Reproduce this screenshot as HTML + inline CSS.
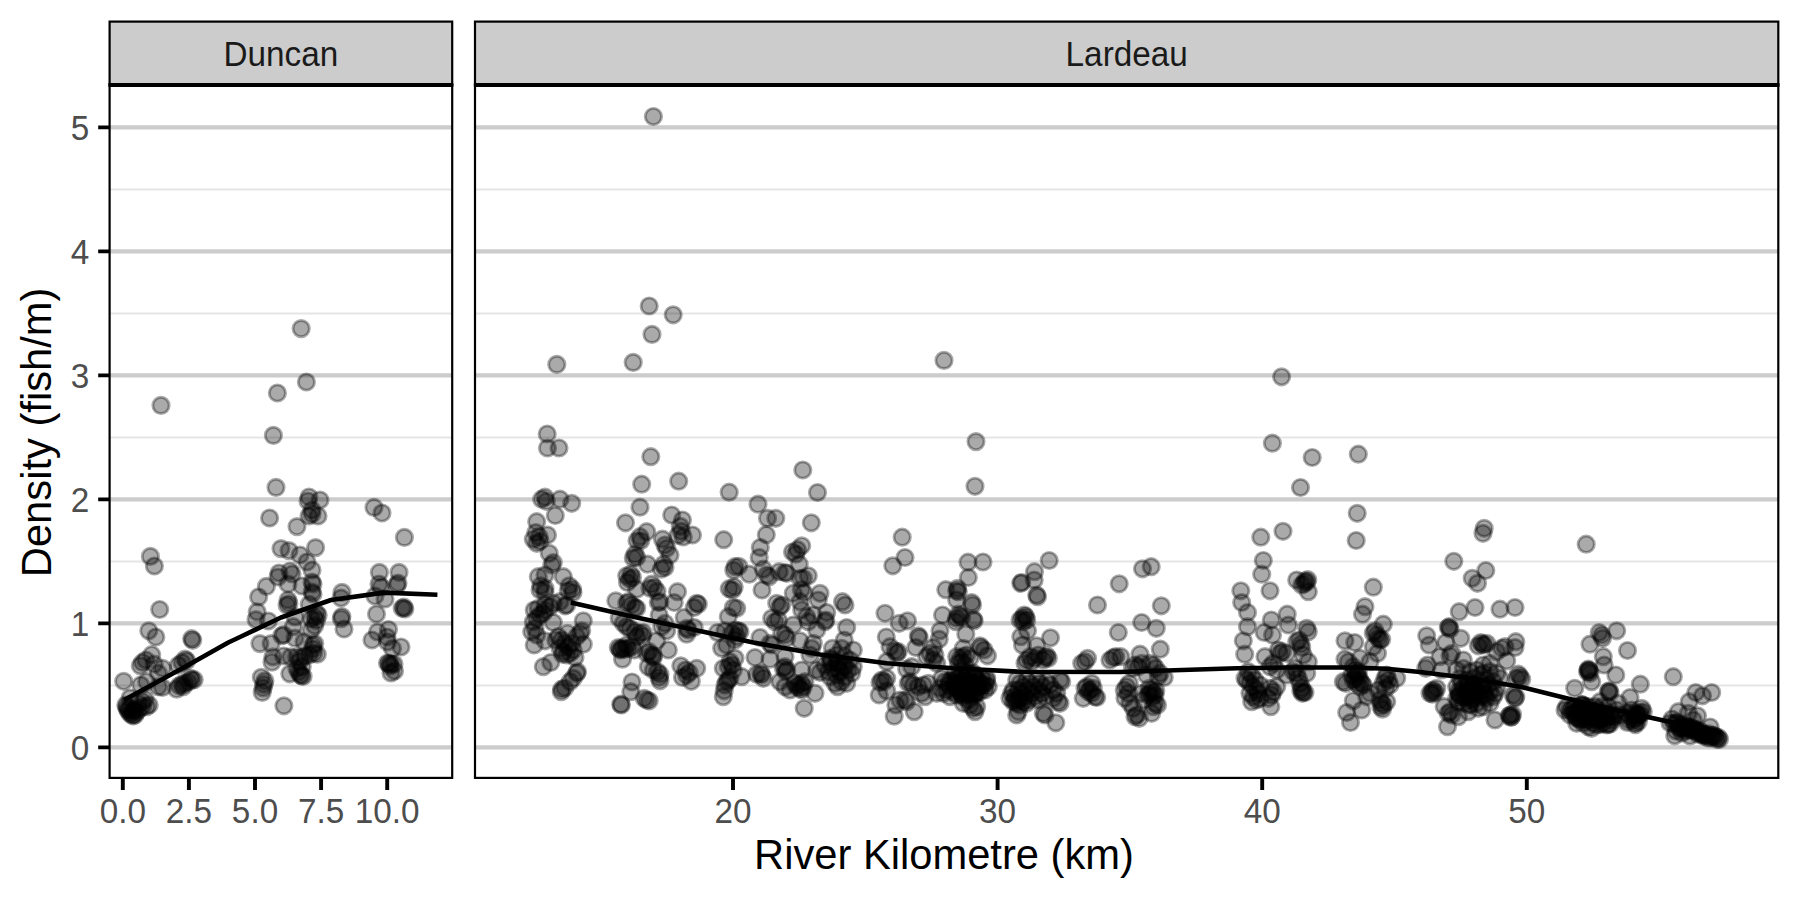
<!DOCTYPE html>
<html lang="en"><head><meta charset="utf-8"><title>Density by River Kilometre</title>
<style>html,body{margin:0;padding:0;background:#fff}body{width:1800px;height:900px;overflow:hidden}svg{display:block}text{font-family:"Liberation Sans",Arial,Helvetica,sans-serif}.tk{font-size:33.3px;fill:#4d4d4d}.st{font-size:33.3px;fill:#1a1a1a}.ti{font-size:41.7px;fill:#000}</style></head><body>
<svg width="1800" height="900" viewBox="0 0 1800 900">
<defs><circle id="p" r="8.15" fill="#000" fill-opacity="0.333" stroke="#000" stroke-opacity="0.333" stroke-width="2.9"/>
<clipPath id="c1"><rect x="109.6" y="85.0" width="342.6" height="692.9"/></clipPath><clipPath id="c2"><rect x="475.0" y="85.0" width="1303.3" height="692.9"/></clipPath></defs>
<rect width="1800" height="900" fill="#fff"/>
<path d="M109.6 685.4H452.2M109.6 561.4H452.2M109.6 437.4H452.2M109.6 313.4H452.2M109.6 189.4H452.2" stroke="#e5e5e5" stroke-width="2" fill="none"/>
<path d="M109.6 747.4H452.2M109.6 623.4H452.2M109.6 499.4H452.2M109.6 375.4H452.2M109.6 251.4H452.2M109.6 127.4H452.2" stroke="#cccccc" stroke-width="4.2" fill="none"/>
<path d="M475.0 685.4H1778.3M475.0 561.4H1778.3M475.0 437.4H1778.3M475.0 313.4H1778.3M475.0 189.4H1778.3" stroke="#e5e5e5" stroke-width="2" fill="none"/>
<path d="M475.0 747.4H1778.3M475.0 623.4H1778.3M475.0 499.4H1778.3M475.0 375.4H1778.3M475.0 251.4H1778.3M475.0 127.4H1778.3" stroke="#cccccc" stroke-width="4.2" fill="none"/>
<g id="pts">
<use href="#p" x="301.2" y="328.6"/>
<use href="#p" x="306.4" y="382"/>
<use href="#p" x="277.4" y="393"/>
<use href="#p" x="161" y="405.4"/>
<use href="#p" x="273.4" y="435.4"/>
<use href="#p" x="276" y="487.4"/>
<use href="#p" x="269.6" y="518"/>
<use href="#p" x="297" y="526.6"/>
<use href="#p" x="309" y="497"/>
<use href="#p" x="308" y="501"/>
<use href="#p" x="320" y="500"/>
<use href="#p" x="312" y="510"/>
<use href="#p" x="309" y="516"/>
<use href="#p" x="318" y="516"/>
<use href="#p" x="312" y="514"/>
<use href="#p" x="374" y="507.4"/>
<use href="#p" x="382" y="513"/>
<use href="#p" x="404.4" y="537.4"/>
<use href="#p" x="150.4" y="556.4"/>
<use href="#p" x="154.4" y="566"/>
<use href="#p" x="281" y="548.6"/>
<use href="#p" x="289" y="550.6"/>
<use href="#p" x="300" y="555"/>
<use href="#p" x="307" y="562"/>
<use href="#p" x="312" y="570"/>
<use href="#p" x="315.6" y="547.6"/>
<use href="#p" x="279" y="573"/>
<use href="#p" x="290" y="571"/>
<use href="#p" x="292" y="574"/>
<use href="#p" x="278" y="577"/>
<use href="#p" x="288" y="584"/>
<use href="#p" x="266.4" y="586.4"/>
<use href="#p" x="258.6" y="597"/>
<use href="#p" x="302" y="586"/>
<use href="#p" x="312" y="582"/>
<use href="#p" x="313" y="584"/>
<use href="#p" x="312" y="592"/>
<use href="#p" x="313" y="594"/>
<use href="#p" x="342" y="592.4"/>
<use href="#p" x="341" y="598"/>
<use href="#p" x="379.4" y="572.4"/>
<use href="#p" x="399" y="572.4"/>
<use href="#p" x="379" y="584"/>
<use href="#p" x="381" y="587"/>
<use href="#p" x="398" y="583"/>
<use href="#p" x="397" y="585"/>
<use href="#p" x="375" y="596"/>
<use href="#p" x="385" y="599"/>
<use href="#p" x="159.7" y="609.5"/>
<use href="#p" x="148.8" y="630.8"/>
<use href="#p" x="155.8" y="637"/>
<use href="#p" x="191.7" y="638.7"/>
<use href="#p" x="192.7" y="640.3"/>
<use href="#p" x="151.7" y="654.7"/>
<use href="#p" x="145.8" y="660"/>
<use href="#p" x="142.5" y="662.5"/>
<use href="#p" x="140.3" y="665.8"/>
<use href="#p" x="154.2" y="664.2"/>
<use href="#p" x="162.5" y="668.3"/>
<use href="#p" x="158.3" y="673.3"/>
<use href="#p" x="185" y="659.2"/>
<use href="#p" x="186.7" y="660.8"/>
<use href="#p" x="182" y="662.5"/>
<use href="#p" x="178.3" y="665.3"/>
<use href="#p" x="123.7" y="681.3"/>
<use href="#p" x="140.8" y="685"/>
<use href="#p" x="146.7" y="681.7"/>
<use href="#p" x="162.5" y="687.5"/>
<use href="#p" x="158.3" y="686.7"/>
<use href="#p" x="176.7" y="689.2"/>
<use href="#p" x="179.2" y="685.8"/>
<use href="#p" x="182" y="684.2"/>
<use href="#p" x="185" y="683.3"/>
<use href="#p" x="188.3" y="682"/>
<use href="#p" x="191.7" y="680"/>
<use href="#p" x="194.2" y="679.7"/>
<use href="#p" x="183.3" y="686.7"/>
<use href="#p" x="190.8" y="678.3"/>
<use href="#p" x="126.7" y="706.7"/>
<use href="#p" x="127.5" y="709.2"/>
<use href="#p" x="128.3" y="710.8"/>
<use href="#p" x="130" y="713.3"/>
<use href="#p" x="131.7" y="715"/>
<use href="#p" x="133.3" y="715.8"/>
<use href="#p" x="135" y="715"/>
<use href="#p" x="130" y="708.3"/>
<use href="#p" x="132.5" y="711.7"/>
<use href="#p" x="125.8" y="705"/>
<use href="#p" x="136.7" y="711.7"/>
<use href="#p" x="139.2" y="709.2"/>
<use href="#p" x="134.2" y="710"/>
<use href="#p" x="142.5" y="706.7"/>
<use href="#p" x="146.7" y="706.7"/>
<use href="#p" x="149.2" y="705"/>
<use href="#p" x="145" y="699.2"/>
<use href="#p" x="142.5" y="701.7"/>
<use href="#p" x="130" y="698"/>
<use href="#p" x="138.3" y="703.3"/>
<use href="#p" x="257.2" y="611.9"/>
<use href="#p" x="256" y="619.6"/>
<use href="#p" x="268.4" y="621"/>
<use href="#p" x="288" y="600"/>
<use href="#p" x="288.9" y="603.6"/>
<use href="#p" x="287.1" y="605.3"/>
<use href="#p" x="309.3" y="604.4"/>
<use href="#p" x="316.4" y="613.3"/>
<use href="#p" x="318.2" y="615.1"/>
<use href="#p" x="314.7" y="616.9"/>
<use href="#p" x="311.1" y="618.7"/>
<use href="#p" x="295.1" y="616.9"/>
<use href="#p" x="316.4" y="620.4"/>
<use href="#p" x="314.7" y="625.8"/>
<use href="#p" x="311.1" y="630.2"/>
<use href="#p" x="293.3" y="626.7"/>
<use href="#p" x="341.9" y="616.5"/>
<use href="#p" x="341.3" y="618.7"/>
<use href="#p" x="344" y="629"/>
<use href="#p" x="283.6" y="634.7"/>
<use href="#p" x="281.8" y="635.6"/>
<use href="#p" x="295.1" y="638.2"/>
<use href="#p" x="304" y="641.8"/>
<use href="#p" x="314.7" y="643.6"/>
<use href="#p" x="312.9" y="645.3"/>
<use href="#p" x="259.9" y="643.6"/>
<use href="#p" x="271.1" y="643.6"/>
<use href="#p" x="272.9" y="656.9"/>
<use href="#p" x="272" y="662.2"/>
<use href="#p" x="283.6" y="656"/>
<use href="#p" x="290.7" y="656.9"/>
<use href="#p" x="296.9" y="656.9"/>
<use href="#p" x="300.4" y="658.1"/>
<use href="#p" x="304.9" y="656"/>
<use href="#p" x="309.3" y="654.8"/>
<use href="#p" x="313.8" y="653.3"/>
<use href="#p" x="317.3" y="654.2"/>
<use href="#p" x="299.6" y="661.3"/>
<use href="#p" x="312.9" y="648.9"/>
<use href="#p" x="289.8" y="673.8"/>
<use href="#p" x="298.7" y="672"/>
<use href="#p" x="301.3" y="675.6"/>
<use href="#p" x="303.1" y="676.4"/>
<use href="#p" x="300.4" y="674.7"/>
<use href="#p" x="296.9" y="668.4"/>
<use href="#p" x="302.2" y="666.7"/>
<use href="#p" x="261.3" y="677.3"/>
<use href="#p" x="264.9" y="680.9"/>
<use href="#p" x="263.1" y="688"/>
<use href="#p" x="262.2" y="692.4"/>
<use href="#p" x="264" y="684.4"/>
<use href="#p" x="283.9" y="705.8"/>
<use href="#p" x="402.2" y="608.2"/>
<use href="#p" x="404" y="607.2"/>
<use href="#p" x="404.8" y="609"/>
<use href="#p" x="376.5" y="614"/>
<use href="#p" x="377.5" y="632"/>
<use href="#p" x="388.5" y="629.5"/>
<use href="#p" x="387" y="637"/>
<use href="#p" x="372" y="640"/>
<use href="#p" x="387.5" y="642"/>
<use href="#p" x="392.5" y="648.5"/>
<use href="#p" x="401" y="647"/>
<use href="#p" x="387.5" y="663"/>
<use href="#p" x="389" y="663.5"/>
<use href="#p" x="391" y="664"/>
<use href="#p" x="394" y="664"/>
<use href="#p" x="390" y="666"/>
<use href="#p" x="391" y="673"/>
<use href="#p" x="394.5" y="671"/>
<use href="#p" x="533.3" y="621.7"/>
<use href="#p" x="535" y="628.3"/>
<use href="#p" x="531.7" y="631.7"/>
<use href="#p" x="536.7" y="635"/>
<use href="#p" x="534.2" y="610"/>
<use href="#p" x="538.3" y="608.3"/>
<use href="#p" x="545" y="610"/>
<use href="#p" x="543.3" y="613.3"/>
<use href="#p" x="550" y="606.7"/>
<use href="#p" x="540" y="615"/>
<use href="#p" x="536.7" y="618.3"/>
<use href="#p" x="553.3" y="603.3"/>
<use href="#p" x="566.7" y="605"/>
<use href="#p" x="565" y="605.8"/>
<use href="#p" x="560" y="601.7"/>
<use href="#p" x="553.3" y="622.5"/>
<use href="#p" x="545" y="605"/>
<use href="#p" x="534.2" y="645"/>
<use href="#p" x="545" y="640.8"/>
<use href="#p" x="583.3" y="620.8"/>
<use href="#p" x="581.7" y="630.8"/>
<use href="#p" x="580" y="633.3"/>
<use href="#p" x="583.3" y="644.2"/>
<use href="#p" x="558.3" y="636.7"/>
<use href="#p" x="561.7" y="640"/>
<use href="#p" x="565" y="643.3"/>
<use href="#p" x="568.3" y="646.7"/>
<use href="#p" x="560" y="648.3"/>
<use href="#p" x="563.3" y="651.7"/>
<use href="#p" x="570" y="653.3"/>
<use href="#p" x="566.7" y="655"/>
<use href="#p" x="573.3" y="650"/>
<use href="#p" x="571.7" y="643.3"/>
<use href="#p" x="576.7" y="636.7"/>
<use href="#p" x="555.8" y="640"/>
<use href="#p" x="575" y="657.5"/>
<use href="#p" x="567.5" y="633.3"/>
<use href="#p" x="562.5" y="654.2"/>
<use href="#p" x="543.3" y="666.7"/>
<use href="#p" x="550.8" y="662.5"/>
<use href="#p" x="577.5" y="671.7"/>
<use href="#p" x="576.7" y="673.3"/>
<use href="#p" x="573.3" y="678.3"/>
<use href="#p" x="570" y="681.7"/>
<use href="#p" x="561.7" y="689.2"/>
<use href="#p" x="564.7" y="688"/>
<use href="#p" x="561.3" y="691.7"/>
<use href="#p" x="615.8" y="600.8"/>
<use href="#p" x="626.7" y="603.3"/>
<use href="#p" x="631.7" y="605"/>
<use href="#p" x="635" y="607.5"/>
<use href="#p" x="636.7" y="608.3"/>
<use href="#p" x="628.3" y="601.7"/>
<use href="#p" x="658.3" y="602.5"/>
<use href="#p" x="660" y="601.7"/>
<use href="#p" x="674.2" y="602.5"/>
<use href="#p" x="659.2" y="615"/>
<use href="#p" x="619.2" y="618.3"/>
<use href="#p" x="623.3" y="623.3"/>
<use href="#p" x="626.7" y="626.7"/>
<use href="#p" x="630" y="628.3"/>
<use href="#p" x="635" y="631.7"/>
<use href="#p" x="640" y="633.3"/>
<use href="#p" x="643.3" y="632.5"/>
<use href="#p" x="636.7" y="636.7"/>
<use href="#p" x="642.5" y="635.8"/>
<use href="#p" x="665" y="623.3"/>
<use href="#p" x="661.7" y="626.7"/>
<use href="#p" x="666.7" y="630.8"/>
<use href="#p" x="656.7" y="640.8"/>
<use href="#p" x="668.3" y="650"/>
<use href="#p" x="618.3" y="647.5"/>
<use href="#p" x="620" y="649.2"/>
<use href="#p" x="622.5" y="648.3"/>
<use href="#p" x="625" y="649.2"/>
<use href="#p" x="628.3" y="648.3"/>
<use href="#p" x="631.7" y="646.7"/>
<use href="#p" x="620.8" y="650"/>
<use href="#p" x="626.7" y="645"/>
<use href="#p" x="634.2" y="650"/>
<use href="#p" x="622.5" y="659.2"/>
<use href="#p" x="646.7" y="653.3"/>
<use href="#p" x="651.7" y="655"/>
<use href="#p" x="653.3" y="655.8"/>
<use href="#p" x="649.2" y="651.7"/>
<use href="#p" x="653.3" y="657.5"/>
<use href="#p" x="648.3" y="666.7"/>
<use href="#p" x="653.3" y="670"/>
<use href="#p" x="657.5" y="671.7"/>
<use href="#p" x="660" y="674.2"/>
<use href="#p" x="659.2" y="677.5"/>
<use href="#p" x="660" y="680.8"/>
<use href="#p" x="632" y="682"/>
<use href="#p" x="630.8" y="691.7"/>
<use href="#p" x="620.8" y="704.2"/>
<use href="#p" x="621.3" y="705"/>
<use href="#p" x="644.2" y="698.3"/>
<use href="#p" x="646.7" y="700"/>
<use href="#p" x="649.2" y="700.8"/>
<use href="#p" x="696.7" y="603.3"/>
<use href="#p" x="698.3" y="604.2"/>
<use href="#p" x="694.2" y="607.5"/>
<use href="#p" x="684.2" y="617.5"/>
<use href="#p" x="686.7" y="628.3"/>
<use href="#p" x="688.3" y="630"/>
<use href="#p" x="694.2" y="627.5"/>
<use href="#p" x="686.7" y="634.2"/>
<use href="#p" x="680.8" y="665.8"/>
<use href="#p" x="696.7" y="668.3"/>
<use href="#p" x="685.8" y="670"/>
<use href="#p" x="689.2" y="672.5"/>
<use href="#p" x="682.5" y="677.5"/>
<use href="#p" x="691.3" y="681.3"/>
<use href="#p" x="686.7" y="675.3"/>
<use href="#p" x="733.3" y="607.5"/>
<use href="#p" x="736.7" y="608.3"/>
<use href="#p" x="728.3" y="616.7"/>
<use href="#p" x="717.5" y="632.5"/>
<use href="#p" x="725" y="630.8"/>
<use href="#p" x="735" y="630"/>
<use href="#p" x="738.3" y="630.8"/>
<use href="#p" x="740" y="631.7"/>
<use href="#p" x="736.7" y="636.7"/>
<use href="#p" x="735" y="640"/>
<use href="#p" x="731.7" y="633.3"/>
<use href="#p" x="721.7" y="648.3"/>
<use href="#p" x="726.7" y="645"/>
<use href="#p" x="735" y="658.3"/>
<use href="#p" x="730" y="661.7"/>
<use href="#p" x="731.7" y="665"/>
<use href="#p" x="728.3" y="666.7"/>
<use href="#p" x="733.3" y="670"/>
<use href="#p" x="723.3" y="668.3"/>
<use href="#p" x="741.7" y="676.7"/>
<use href="#p" x="730" y="678.3"/>
<use href="#p" x="726.7" y="681.7"/>
<use href="#p" x="725" y="685"/>
<use href="#p" x="728.3" y="680"/>
<use href="#p" x="724.2" y="690.8"/>
<use href="#p" x="723.3" y="696.7"/>
<use href="#p" x="776.7" y="603.3"/>
<use href="#p" x="780" y="606.7"/>
<use href="#p" x="781.7" y="605"/>
<use href="#p" x="801.7" y="610"/>
<use href="#p" x="800" y="601.7"/>
<use href="#p" x="771.7" y="618.3"/>
<use href="#p" x="775" y="621.7"/>
<use href="#p" x="778.3" y="620"/>
<use href="#p" x="793.3" y="625"/>
<use href="#p" x="806.7" y="616.7"/>
<use href="#p" x="808.3" y="621.7"/>
<use href="#p" x="813.3" y="615"/>
<use href="#p" x="818.3" y="600"/>
<use href="#p" x="760" y="637.5"/>
<use href="#p" x="770" y="643.3"/>
<use href="#p" x="771.7" y="645"/>
<use href="#p" x="781.7" y="633.3"/>
<use href="#p" x="785" y="635"/>
<use href="#p" x="786.7" y="638.3"/>
<use href="#p" x="800" y="640.8"/>
<use href="#p" x="813.3" y="643.3"/>
<use href="#p" x="811.7" y="648.3"/>
<use href="#p" x="816.7" y="630"/>
<use href="#p" x="755" y="657.5"/>
<use href="#p" x="770" y="659.2"/>
<use href="#p" x="785" y="656.7"/>
<use href="#p" x="810" y="655"/>
<use href="#p" x="785" y="666.7"/>
<use href="#p" x="786.7" y="670"/>
<use href="#p" x="783.3" y="668.3"/>
<use href="#p" x="785.8" y="671.7"/>
<use href="#p" x="756.7" y="674.2"/>
<use href="#p" x="760.8" y="673.3"/>
<use href="#p" x="763.3" y="678.3"/>
<use href="#p" x="761.7" y="675"/>
<use href="#p" x="801.7" y="670"/>
<use href="#p" x="816.7" y="670"/>
<use href="#p" x="820" y="672.5"/>
<use href="#p" x="780" y="681.7"/>
<use href="#p" x="785" y="686.7"/>
<use href="#p" x="790" y="690"/>
<use href="#p" x="795" y="683.3"/>
<use href="#p" x="798.3" y="685"/>
<use href="#p" x="801.7" y="683.3"/>
<use href="#p" x="803.3" y="686.7"/>
<use href="#p" x="800" y="688.3"/>
<use href="#p" x="796.7" y="686.7"/>
<use href="#p" x="805" y="681.7"/>
<use href="#p" x="801.7" y="690"/>
<use href="#p" x="815" y="693.3"/>
<use href="#p" x="804.2" y="708.3"/>
<use href="#p" x="541.7" y="499.2"/>
<use href="#p" x="545" y="497.2"/>
<use href="#p" x="546.3" y="501.3"/>
<use href="#p" x="560" y="499.2"/>
<use href="#p" x="571.7" y="503.3"/>
<use href="#p" x="555.3" y="515.5"/>
<use href="#p" x="536.7" y="521.7"/>
<use href="#p" x="535.8" y="532.5"/>
<use href="#p" x="539.2" y="536.7"/>
<use href="#p" x="533.3" y="539.2"/>
<use href="#p" x="540" y="541.3"/>
<use href="#p" x="536.7" y="543.3"/>
<use href="#p" x="547.5" y="535"/>
<use href="#p" x="549.2" y="553.3"/>
<use href="#p" x="553.3" y="562.5"/>
<use href="#p" x="551.7" y="565"/>
<use href="#p" x="538.3" y="576.7"/>
<use href="#p" x="545" y="575"/>
<use href="#p" x="563.3" y="576.7"/>
<use href="#p" x="540.8" y="585.8"/>
<use href="#p" x="545" y="588.3"/>
<use href="#p" x="540" y="590"/>
<use href="#p" x="545" y="592.5"/>
<use href="#p" x="569.2" y="585.8"/>
<use href="#p" x="572.5" y="589.2"/>
<use href="#p" x="568.3" y="590.8"/>
<use href="#p" x="573" y="592.5"/>
<use href="#p" x="650.8" y="456.7"/>
<use href="#p" x="641.7" y="484.2"/>
<use href="#p" x="678.7" y="481.2"/>
<use href="#p" x="640" y="507.2"/>
<use href="#p" x="625.5" y="522.8"/>
<use href="#p" x="671.7" y="515"/>
<use href="#p" x="682.5" y="520"/>
<use href="#p" x="646.7" y="531.7"/>
<use href="#p" x="640" y="536.7"/>
<use href="#p" x="637" y="540.8"/>
<use href="#p" x="640.8" y="540.8"/>
<use href="#p" x="680.3" y="526.3"/>
<use href="#p" x="681.3" y="531.3"/>
<use href="#p" x="678" y="535.3"/>
<use href="#p" x="683.3" y="537"/>
<use href="#p" x="692.5" y="535"/>
<use href="#p" x="662.5" y="539.2"/>
<use href="#p" x="665" y="545"/>
<use href="#p" x="666.7" y="548.3"/>
<use href="#p" x="670" y="555"/>
<use href="#p" x="635" y="554.2"/>
<use href="#p" x="636.7" y="557.5"/>
<use href="#p" x="633.3" y="558"/>
<use href="#p" x="647.5" y="564.2"/>
<use href="#p" x="663.7" y="564.2"/>
<use href="#p" x="665" y="567.5"/>
<use href="#p" x="661.3" y="569.2"/>
<use href="#p" x="626.7" y="575.8"/>
<use href="#p" x="630.8" y="574.2"/>
<use href="#p" x="630" y="579.2"/>
<use href="#p" x="627.5" y="582.5"/>
<use href="#p" x="632.5" y="577.5"/>
<use href="#p" x="636.7" y="589.2"/>
<use href="#p" x="651.7" y="584.2"/>
<use href="#p" x="654.2" y="587.5"/>
<use href="#p" x="650" y="588.3"/>
<use href="#p" x="657" y="591.3"/>
<use href="#p" x="677.5" y="591.7"/>
<use href="#p" x="729.2" y="492.2"/>
<use href="#p" x="723.7" y="539.7"/>
<use href="#p" x="735" y="566.7"/>
<use href="#p" x="738.7" y="566.3"/>
<use href="#p" x="733.8" y="570.3"/>
<use href="#p" x="749.2" y="574.2"/>
<use href="#p" x="729.2" y="588.7"/>
<use href="#p" x="734.2" y="587"/>
<use href="#p" x="732.5" y="590"/>
<use href="#p" x="802.8" y="470"/>
<use href="#p" x="817.5" y="492.5"/>
<use href="#p" x="758" y="504.2"/>
<use href="#p" x="767.5" y="518.3"/>
<use href="#p" x="775.8" y="518.3"/>
<use href="#p" x="811.3" y="522.8"/>
<use href="#p" x="766.3" y="534.7"/>
<use href="#p" x="760.3" y="547.5"/>
<use href="#p" x="759.2" y="557.5"/>
<use href="#p" x="801.7" y="545.8"/>
<use href="#p" x="792.5" y="552"/>
<use href="#p" x="795.8" y="554.2"/>
<use href="#p" x="797.5" y="549.7"/>
<use href="#p" x="799.2" y="564.2"/>
<use href="#p" x="763.3" y="569.2"/>
<use href="#p" x="766.7" y="575"/>
<use href="#p" x="769.2" y="576.7"/>
<use href="#p" x="779.2" y="571.7"/>
<use href="#p" x="785" y="572.5"/>
<use href="#p" x="786.7" y="573.3"/>
<use href="#p" x="808.3" y="575.8"/>
<use href="#p" x="803.3" y="578.3"/>
<use href="#p" x="800" y="578.3"/>
<use href="#p" x="762" y="590"/>
<use href="#p" x="801.3" y="589.7"/>
<use href="#p" x="803.8" y="592.5"/>
<use href="#p" x="793.3" y="593.3"/>
<use href="#p" x="820" y="593.3"/>
<use href="#p" x="845" y="605"/>
<use href="#p" x="842.5" y="601.7"/>
<use href="#p" x="826.7" y="612.5"/>
<use href="#p" x="825.8" y="620"/>
<use href="#p" x="825" y="621.7"/>
<use href="#p" x="846.7" y="627.5"/>
<use href="#p" x="844.2" y="640"/>
<use href="#p" x="832.5" y="648.3"/>
<use href="#p" x="841.7" y="648.3"/>
<use href="#p" x="853.3" y="650"/>
<use href="#p" x="836.7" y="655"/>
<use href="#p" x="845" y="656.7"/>
<use href="#p" x="830" y="658.3"/>
<use href="#p" x="850" y="660"/>
<use href="#p" x="838.3" y="663.3"/>
<use href="#p" x="843.3" y="666.7"/>
<use href="#p" x="833.3" y="668.3"/>
<use href="#p" x="848.3" y="670"/>
<use href="#p" x="840" y="671.7"/>
<use href="#p" x="836.7" y="675"/>
<use href="#p" x="845" y="676.7"/>
<use href="#p" x="851.7" y="673.3"/>
<use href="#p" x="830" y="676.7"/>
<use href="#p" x="841.7" y="681.7"/>
<use href="#p" x="835" y="683.3"/>
<use href="#p" x="846.7" y="683.3"/>
<use href="#p" x="837.5" y="686.7"/>
<use href="#p" x="828.3" y="671.7"/>
<use href="#p" x="853.3" y="666.7"/>
<use href="#p" x="885" y="613.3"/>
<use href="#p" x="899.2" y="623.3"/>
<use href="#p" x="907.5" y="620.8"/>
<use href="#p" x="886.3" y="637"/>
<use href="#p" x="918.3" y="635.8"/>
<use href="#p" x="919.2" y="637.5"/>
<use href="#p" x="890" y="646.7"/>
<use href="#p" x="895" y="650.8"/>
<use href="#p" x="896.7" y="653.3"/>
<use href="#p" x="898.3" y="651.7"/>
<use href="#p" x="915.8" y="647.5"/>
<use href="#p" x="886.7" y="661.7"/>
<use href="#p" x="911.7" y="666.7"/>
<use href="#p" x="906.7" y="669.2"/>
<use href="#p" x="881.7" y="680"/>
<use href="#p" x="884.2" y="681.7"/>
<use href="#p" x="886.7" y="678.3"/>
<use href="#p" x="880" y="682.5"/>
<use href="#p" x="879.2" y="695"/>
<use href="#p" x="886.7" y="690.8"/>
<use href="#p" x="910" y="681.7"/>
<use href="#p" x="913.3" y="685"/>
<use href="#p" x="908.3" y="683.3"/>
<use href="#p" x="918.3" y="686.7"/>
<use href="#p" x="923.3" y="685"/>
<use href="#p" x="928.3" y="683.3"/>
<use href="#p" x="900" y="700"/>
<use href="#p" x="905" y="700"/>
<use href="#p" x="906.7" y="701.7"/>
<use href="#p" x="895.8" y="705"/>
<use href="#p" x="894.2" y="716.2"/>
<use href="#p" x="914.2" y="711.7"/>
<use href="#p" x="925" y="696.7"/>
<use href="#p" x="921.7" y="693.3"/>
<use href="#p" x="942.5" y="615"/>
<use href="#p" x="940" y="630.8"/>
<use href="#p" x="939.2" y="639.2"/>
<use href="#p" x="956.7" y="600"/>
<use href="#p" x="971.7" y="602.5"/>
<use href="#p" x="972.5" y="605"/>
<use href="#p" x="958.3" y="614.2"/>
<use href="#p" x="960" y="615.8"/>
<use href="#p" x="956.7" y="618.3"/>
<use href="#p" x="961.7" y="617.5"/>
<use href="#p" x="973.3" y="619.2"/>
<use href="#p" x="974.2" y="620.8"/>
<use href="#p" x="955.8" y="621.7"/>
<use href="#p" x="965.8" y="634.2"/>
<use href="#p" x="933.3" y="647.5"/>
<use href="#p" x="930" y="653.3"/>
<use href="#p" x="935" y="655"/>
<use href="#p" x="926.7" y="656.7"/>
<use href="#p" x="936.7" y="663.3"/>
<use href="#p" x="933.3" y="660"/>
<use href="#p" x="980" y="645.8"/>
<use href="#p" x="980.8" y="647.5"/>
<use href="#p" x="984.2" y="650"/>
<use href="#p" x="987.5" y="655.8"/>
<use href="#p" x="963.3" y="648.3"/>
<use href="#p" x="956.7" y="656.7"/>
<use href="#p" x="960" y="658.3"/>
<use href="#p" x="963.3" y="656.7"/>
<use href="#p" x="966.7" y="655"/>
<use href="#p" x="970" y="658.3"/>
<use href="#p" x="961.7" y="661.7"/>
<use href="#p" x="958.3" y="663.3"/>
<use href="#p" x="965" y="665"/>
<use href="#p" x="941.7" y="678.3"/>
<use href="#p" x="945" y="681.7"/>
<use href="#p" x="948.3" y="685"/>
<use href="#p" x="951.7" y="680"/>
<use href="#p" x="955" y="683.3"/>
<use href="#p" x="958.3" y="678.3"/>
<use href="#p" x="961.7" y="681.7"/>
<use href="#p" x="965" y="685"/>
<use href="#p" x="968.3" y="680"/>
<use href="#p" x="971.7" y="683.3"/>
<use href="#p" x="975" y="678.3"/>
<use href="#p" x="978.3" y="681.7"/>
<use href="#p" x="981.7" y="685"/>
<use href="#p" x="985" y="690"/>
<use href="#p" x="986.7" y="678.3"/>
<use href="#p" x="988.3" y="686.7"/>
<use href="#p" x="946.7" y="690"/>
<use href="#p" x="953.3" y="691.7"/>
<use href="#p" x="960" y="690"/>
<use href="#p" x="966.7" y="691.7"/>
<use href="#p" x="973.3" y="690"/>
<use href="#p" x="980" y="691.7"/>
<use href="#p" x="943.3" y="693.3"/>
<use href="#p" x="950" y="696.7"/>
<use href="#p" x="956.7" y="695"/>
<use href="#p" x="963.3" y="696.7"/>
<use href="#p" x="970" y="695"/>
<use href="#p" x="961.7" y="675"/>
<use href="#p" x="968.3" y="673.3"/>
<use href="#p" x="975" y="675"/>
<use href="#p" x="955" y="673.3"/>
<use href="#p" x="965" y="678.3"/>
<use href="#p" x="970.8" y="686.7"/>
<use href="#p" x="960.8" y="685.8"/>
<use href="#p" x="940" y="688.3"/>
<use href="#p" x="936.7" y="693.3"/>
<use href="#p" x="963.3" y="703.3"/>
<use href="#p" x="970" y="705"/>
<use href="#p" x="973.3" y="708.3"/>
<use href="#p" x="975" y="711.7"/>
<use href="#p" x="976.7" y="706.7"/>
<use href="#p" x="968.3" y="700"/>
<use href="#p" x="1024.2" y="615"/>
<use href="#p" x="1025.8" y="616.7"/>
<use href="#p" x="1022.5" y="618.3"/>
<use href="#p" x="1026.7" y="620"/>
<use href="#p" x="1023.3" y="621.7"/>
<use href="#p" x="1020" y="620"/>
<use href="#p" x="1027.5" y="630.8"/>
<use href="#p" x="1020.8" y="636.7"/>
<use href="#p" x="1022.5" y="645"/>
<use href="#p" x="1036.7" y="645.8"/>
<use href="#p" x="1050.5" y="637.8"/>
<use href="#p" x="1046.7" y="655.8"/>
<use href="#p" x="1045" y="657.5"/>
<use href="#p" x="1043.3" y="660"/>
<use href="#p" x="1048.3" y="658.3"/>
<use href="#p" x="1030" y="656.7"/>
<use href="#p" x="1026.7" y="660"/>
<use href="#p" x="1031.7" y="661.7"/>
<use href="#p" x="1025" y="663.3"/>
<use href="#p" x="1035" y="658.3"/>
<use href="#p" x="1038.3" y="655"/>
<use href="#p" x="1016.7" y="680"/>
<use href="#p" x="1020" y="683.3"/>
<use href="#p" x="1023.3" y="686.7"/>
<use href="#p" x="1026.7" y="680"/>
<use href="#p" x="1030" y="683.3"/>
<use href="#p" x="1033.3" y="686.7"/>
<use href="#p" x="1036.7" y="680"/>
<use href="#p" x="1040" y="683.3"/>
<use href="#p" x="1043.3" y="686.7"/>
<use href="#p" x="1046.7" y="681.7"/>
<use href="#p" x="1050" y="685"/>
<use href="#p" x="1011.7" y="693.3"/>
<use href="#p" x="1015" y="696.7"/>
<use href="#p" x="1018.3" y="700"/>
<use href="#p" x="1021.7" y="693.3"/>
<use href="#p" x="1025" y="696.7"/>
<use href="#p" x="1028.3" y="700"/>
<use href="#p" x="1031.7" y="693.3"/>
<use href="#p" x="1035" y="696.7"/>
<use href="#p" x="1038.3" y="700"/>
<use href="#p" x="1041.7" y="693.3"/>
<use href="#p" x="1045" y="696.7"/>
<use href="#p" x="1013.3" y="701.7"/>
<use href="#p" x="1016.7" y="703.3"/>
<use href="#p" x="1020" y="705"/>
<use href="#p" x="1023.3" y="701.7"/>
<use href="#p" x="1026.7" y="703.3"/>
<use href="#p" x="1010" y="698.3"/>
<use href="#p" x="1053.3" y="690"/>
<use href="#p" x="1056.7" y="693.3"/>
<use href="#p" x="1053.3" y="698.3"/>
<use href="#p" x="1058.3" y="701.7"/>
<use href="#p" x="1060" y="703.3"/>
<use href="#p" x="1061.7" y="681.7"/>
<use href="#p" x="1060" y="680"/>
<use href="#p" x="1018.3" y="690"/>
<use href="#p" x="1028.3" y="690"/>
<use href="#p" x="1038.3" y="690"/>
<use href="#p" x="1015" y="700"/>
<use href="#p" x="1020" y="698.3"/>
<use href="#p" x="1013.3" y="690"/>
<use href="#p" x="1016.7" y="715"/>
<use href="#p" x="1018.3" y="711.7"/>
<use href="#p" x="1043.3" y="713.3"/>
<use href="#p" x="1045" y="715"/>
<use href="#p" x="1055.8" y="722.8"/>
<use href="#p" x="1097.5" y="605"/>
<use href="#p" x="1118.3" y="632.5"/>
<use href="#p" x="1087.5" y="658.3"/>
<use href="#p" x="1081.7" y="663.3"/>
<use href="#p" x="1085" y="661.7"/>
<use href="#p" x="1110" y="660"/>
<use href="#p" x="1113.3" y="657.5"/>
<use href="#p" x="1115.8" y="656.7"/>
<use href="#p" x="1086.7" y="686.7"/>
<use href="#p" x="1090" y="690"/>
<use href="#p" x="1093.3" y="688.3"/>
<use href="#p" x="1088.3" y="691.7"/>
<use href="#p" x="1091.7" y="693.3"/>
<use href="#p" x="1095" y="696.7"/>
<use href="#p" x="1096.7" y="697.5"/>
<use href="#p" x="1083.3" y="698.3"/>
<use href="#p" x="1091.7" y="683.3"/>
<use href="#p" x="1085" y="688.3"/>
<use href="#p" x="975" y="486.3"/>
<use href="#p" x="902.2" y="537.2"/>
<use href="#p" x="905" y="557.5"/>
<use href="#p" x="892.8" y="565.8"/>
<use href="#p" x="968" y="562.2"/>
<use href="#p" x="983" y="562"/>
<use href="#p" x="968.3" y="577.5"/>
<use href="#p" x="945.8" y="589.7"/>
<use href="#p" x="957.5" y="588.3"/>
<use href="#p" x="958.3" y="591.7"/>
<use href="#p" x="956.7" y="590.8"/>
<use href="#p" x="1049.2" y="560.5"/>
<use href="#p" x="1034.5" y="571.7"/>
<use href="#p" x="1034.2" y="580"/>
<use href="#p" x="1021.7" y="582.5"/>
<use href="#p" x="1020.8" y="583.3"/>
<use href="#p" x="1036.7" y="595"/>
<use href="#p" x="1037.5" y="596.7"/>
<use href="#p" x="1119.2" y="583.8"/>
<use href="#p" x="1161.3" y="605.8"/>
<use href="#p" x="1141.7" y="622.5"/>
<use href="#p" x="1156.3" y="628.3"/>
<use href="#p" x="1120.8" y="656.7"/>
<use href="#p" x="1160.3" y="649.2"/>
<use href="#p" x="1140" y="654.2"/>
<use href="#p" x="1135" y="665"/>
<use href="#p" x="1138.3" y="666.7"/>
<use href="#p" x="1132.5" y="668.3"/>
<use href="#p" x="1141.7" y="663.3"/>
<use href="#p" x="1153.3" y="665"/>
<use href="#p" x="1155.8" y="668.3"/>
<use href="#p" x="1150" y="663.3"/>
<use href="#p" x="1160" y="673.3"/>
<use href="#p" x="1164.2" y="677.5"/>
<use href="#p" x="1158.3" y="676.7"/>
<use href="#p" x="1146.7" y="675"/>
<use href="#p" x="1126.7" y="686.7"/>
<use href="#p" x="1124.2" y="690"/>
<use href="#p" x="1128.3" y="693.3"/>
<use href="#p" x="1125" y="698.3"/>
<use href="#p" x="1130" y="703.3"/>
<use href="#p" x="1133.3" y="708.3"/>
<use href="#p" x="1129.2" y="683.3"/>
<use href="#p" x="1151.7" y="690"/>
<use href="#p" x="1153.3" y="692.5"/>
<use href="#p" x="1150" y="693.3"/>
<use href="#p" x="1155" y="695"/>
<use href="#p" x="1152.5" y="696.7"/>
<use href="#p" x="1149.2" y="688.3"/>
<use href="#p" x="1155.8" y="690.8"/>
<use href="#p" x="1148.3" y="695"/>
<use href="#p" x="1155" y="703.3"/>
<use href="#p" x="1157.5" y="705"/>
<use href="#p" x="1153.3" y="706.7"/>
<use href="#p" x="1151.7" y="713.3"/>
<use href="#p" x="1136.7" y="715"/>
<use href="#p" x="1139.2" y="718.3"/>
<use href="#p" x="1135" y="716.7"/>
<use href="#p" x="1141.7" y="693.3"/>
<use href="#p" x="1143.3" y="700"/>
<use href="#p" x="1241.7" y="602.5"/>
<use href="#p" x="1247.5" y="612.5"/>
<use href="#p" x="1247.5" y="626.7"/>
<use href="#p" x="1243.3" y="640.8"/>
<use href="#p" x="1244.7" y="654.2"/>
<use href="#p" x="1287.2" y="614.2"/>
<use href="#p" x="1271.3" y="620"/>
<use href="#p" x="1288.3" y="625"/>
<use href="#p" x="1264.2" y="632.5"/>
<use href="#p" x="1272.5" y="635"/>
<use href="#p" x="1306.7" y="628.3"/>
<use href="#p" x="1308.3" y="631.7"/>
<use href="#p" x="1296.7" y="641.7"/>
<use href="#p" x="1300.8" y="644.2"/>
<use href="#p" x="1301.7" y="647.5"/>
<use href="#p" x="1299.2" y="640"/>
<use href="#p" x="1278.3" y="650"/>
<use href="#p" x="1282.5" y="651.7"/>
<use href="#p" x="1286.7" y="653.3"/>
<use href="#p" x="1280" y="653.3"/>
<use href="#p" x="1265" y="656.7"/>
<use href="#p" x="1303.3" y="655"/>
<use href="#p" x="1308.3" y="661.7"/>
<use href="#p" x="1273.3" y="663.3"/>
<use href="#p" x="1270" y="666.7"/>
<use href="#p" x="1276.7" y="670"/>
<use href="#p" x="1286.7" y="675"/>
<use href="#p" x="1248.3" y="671.7"/>
<use href="#p" x="1251.7" y="675"/>
<use href="#p" x="1246.7" y="680"/>
<use href="#p" x="1250" y="683.3"/>
<use href="#p" x="1255" y="680"/>
<use href="#p" x="1245" y="678.3"/>
<use href="#p" x="1253.3" y="686.7"/>
<use href="#p" x="1256.7" y="690"/>
<use href="#p" x="1260" y="685"/>
<use href="#p" x="1250" y="693.3"/>
<use href="#p" x="1253.3" y="696.7"/>
<use href="#p" x="1256.7" y="700"/>
<use href="#p" x="1251.7" y="701.7"/>
<use href="#p" x="1260" y="698.3"/>
<use href="#p" x="1258.3" y="693.3"/>
<use href="#p" x="1270" y="688.3"/>
<use href="#p" x="1273.3" y="691.7"/>
<use href="#p" x="1276.7" y="686.7"/>
<use href="#p" x="1271.7" y="695"/>
<use href="#p" x="1270.8" y="706.7"/>
<use href="#p" x="1268.3" y="698.3"/>
<use href="#p" x="1295" y="668.3"/>
<use href="#p" x="1296.7" y="673.3"/>
<use href="#p" x="1298.3" y="678.3"/>
<use href="#p" x="1300" y="683.3"/>
<use href="#p" x="1301.7" y="688.3"/>
<use href="#p" x="1303.3" y="691.7"/>
<use href="#p" x="1302.5" y="693.3"/>
<use href="#p" x="1305" y="692.5"/>
<use href="#p" x="1300.8" y="690.8"/>
<use href="#p" x="1306.7" y="673.3"/>
<use href="#p" x="1293.3" y="671.7"/>
<use href="#p" x="1365" y="606.7"/>
<use href="#p" x="1362.5" y="614.2"/>
<use href="#p" x="1383.3" y="624.2"/>
<use href="#p" x="1375" y="630.8"/>
<use href="#p" x="1376.7" y="635"/>
<use href="#p" x="1378.3" y="638.3"/>
<use href="#p" x="1380" y="640"/>
<use href="#p" x="1373.3" y="633.3"/>
<use href="#p" x="1381.7" y="639.2"/>
<use href="#p" x="1345" y="640.8"/>
<use href="#p" x="1354.7" y="642.5"/>
<use href="#p" x="1373.3" y="646.7"/>
<use href="#p" x="1377.5" y="653.3"/>
<use href="#p" x="1370" y="661.7"/>
<use href="#p" x="1345" y="659.2"/>
<use href="#p" x="1348.3" y="661.7"/>
<use href="#p" x="1360" y="658.3"/>
<use href="#p" x="1353.3" y="666.7"/>
<use href="#p" x="1355" y="670"/>
<use href="#p" x="1356.7" y="673.3"/>
<use href="#p" x="1358.3" y="676.7"/>
<use href="#p" x="1360" y="680"/>
<use href="#p" x="1361.7" y="683.3"/>
<use href="#p" x="1356.7" y="683.3"/>
<use href="#p" x="1353.3" y="680"/>
<use href="#p" x="1351.7" y="675"/>
<use href="#p" x="1360" y="686.7"/>
<use href="#p" x="1363.3" y="685"/>
<use href="#p" x="1355" y="678.3"/>
<use href="#p" x="1358.3" y="671.7"/>
<use href="#p" x="1343.3" y="681.7"/>
<use href="#p" x="1345.8" y="683.3"/>
<use href="#p" x="1386.7" y="675"/>
<use href="#p" x="1385" y="678.3"/>
<use href="#p" x="1388.3" y="680"/>
<use href="#p" x="1383.3" y="683.3"/>
<use href="#p" x="1390" y="685"/>
<use href="#p" x="1396.7" y="678.3"/>
<use href="#p" x="1385.8" y="688.3"/>
<use href="#p" x="1366.7" y="696.7"/>
<use href="#p" x="1370" y="693.3"/>
<use href="#p" x="1378.3" y="690"/>
<use href="#p" x="1353.3" y="700.8"/>
<use href="#p" x="1361.7" y="710"/>
<use href="#p" x="1346.7" y="712.5"/>
<use href="#p" x="1350.5" y="722.5"/>
<use href="#p" x="1380" y="700"/>
<use href="#p" x="1381.7" y="703.3"/>
<use href="#p" x="1383.3" y="705"/>
<use href="#p" x="1380.8" y="706.7"/>
<use href="#p" x="1382.5" y="709.2"/>
<use href="#p" x="1386.7" y="701.7"/>
<use href="#p" x="1312.2" y="457.5"/>
<use href="#p" x="1358.3" y="454.2"/>
<use href="#p" x="1300.5" y="487.5"/>
<use href="#p" x="1357.2" y="513.3"/>
<use href="#p" x="1356.2" y="540.5"/>
<use href="#p" x="1260.8" y="537.2"/>
<use href="#p" x="1283" y="531.3"/>
<use href="#p" x="1263.3" y="560.5"/>
<use href="#p" x="1261.7" y="574.2"/>
<use href="#p" x="1142.5" y="568.8"/>
<use href="#p" x="1151.2" y="566.7"/>
<use href="#p" x="1240.8" y="590.8"/>
<use href="#p" x="1270" y="590.8"/>
<use href="#p" x="1296.7" y="580"/>
<use href="#p" x="1305" y="580.8"/>
<use href="#p" x="1306.7" y="582"/>
<use href="#p" x="1304.2" y="583.7"/>
<use href="#p" x="1307.8" y="579.7"/>
<use href="#p" x="1301.7" y="585"/>
<use href="#p" x="1308.3" y="591.7"/>
<use href="#p" x="1373.3" y="587.2"/>
<use href="#p" x="1459.2" y="611.7"/>
<use href="#p" x="1475" y="607.5"/>
<use href="#p" x="1500" y="609.2"/>
<use href="#p" x="1515" y="607.5"/>
<use href="#p" x="1449.2" y="626.7"/>
<use href="#p" x="1450" y="629.2"/>
<use href="#p" x="1448.3" y="627.5"/>
<use href="#p" x="1426.7" y="635.8"/>
<use href="#p" x="1429.2" y="645"/>
<use href="#p" x="1460.8" y="638.3"/>
<use href="#p" x="1445.8" y="642.5"/>
<use href="#p" x="1480.8" y="642.5"/>
<use href="#p" x="1482.5" y="644.2"/>
<use href="#p" x="1484.2" y="645"/>
<use href="#p" x="1478.3" y="645.8"/>
<use href="#p" x="1486.7" y="643.3"/>
<use href="#p" x="1515.8" y="641.7"/>
<use href="#p" x="1515" y="647.5"/>
<use href="#p" x="1501.7" y="648.3"/>
<use href="#p" x="1505" y="646.7"/>
<use href="#p" x="1496.7" y="651.7"/>
<use href="#p" x="1451.7" y="653.3"/>
<use href="#p" x="1450" y="655.8"/>
<use href="#p" x="1440" y="656.7"/>
<use href="#p" x="1463.3" y="660"/>
<use href="#p" x="1427.5" y="665"/>
<use href="#p" x="1425.8" y="668.3"/>
<use href="#p" x="1441.7" y="670"/>
<use href="#p" x="1506.7" y="660.8"/>
<use href="#p" x="1490" y="663.3"/>
<use href="#p" x="1483.3" y="665"/>
<use href="#p" x="1518.3" y="674.2"/>
<use href="#p" x="1520" y="676.7"/>
<use href="#p" x="1516.7" y="678.3"/>
<use href="#p" x="1521.7" y="679.2"/>
<use href="#p" x="1456.7" y="670"/>
<use href="#p" x="1463.3" y="668.3"/>
<use href="#p" x="1470" y="671.7"/>
<use href="#p" x="1476.7" y="670"/>
<use href="#p" x="1483.3" y="673.3"/>
<use href="#p" x="1490" y="671.7"/>
<use href="#p" x="1496.7" y="673.3"/>
<use href="#p" x="1460" y="678.3"/>
<use href="#p" x="1466.7" y="680"/>
<use href="#p" x="1473.3" y="678.3"/>
<use href="#p" x="1480" y="681.7"/>
<use href="#p" x="1486.7" y="680"/>
<use href="#p" x="1493.3" y="681.7"/>
<use href="#p" x="1500" y="678.3"/>
<use href="#p" x="1456.7" y="686.7"/>
<use href="#p" x="1463.3" y="688.3"/>
<use href="#p" x="1470" y="690"/>
<use href="#p" x="1476.7" y="688.3"/>
<use href="#p" x="1483.3" y="690"/>
<use href="#p" x="1490" y="691.7"/>
<use href="#p" x="1496.7" y="688.3"/>
<use href="#p" x="1460" y="695"/>
<use href="#p" x="1466.7" y="696.7"/>
<use href="#p" x="1473.3" y="698.3"/>
<use href="#p" x="1480" y="696.7"/>
<use href="#p" x="1486.7" y="698.3"/>
<use href="#p" x="1493.3" y="696.7"/>
<use href="#p" x="1463.3" y="703.3"/>
<use href="#p" x="1470" y="705"/>
<use href="#p" x="1476.7" y="703.3"/>
<use href="#p" x="1483.3" y="706.7"/>
<use href="#p" x="1490" y="703.3"/>
<use href="#p" x="1466.7" y="691.7"/>
<use href="#p" x="1473.3" y="685"/>
<use href="#p" x="1480" y="675"/>
<use href="#p" x="1461.7" y="683.3"/>
<use href="#p" x="1468.3" y="683.3"/>
<use href="#p" x="1475" y="693.3"/>
<use href="#p" x="1481.7" y="686.7"/>
<use href="#p" x="1488.3" y="685"/>
<use href="#p" x="1495" y="693.3"/>
<use href="#p" x="1458.3" y="691.7"/>
<use href="#p" x="1433.3" y="690"/>
<use href="#p" x="1431.7" y="691.7"/>
<use href="#p" x="1435" y="692.5"/>
<use href="#p" x="1430" y="693.3"/>
<use href="#p" x="1436.7" y="688.3"/>
<use href="#p" x="1432.5" y="694.2"/>
<use href="#p" x="1513.3" y="695"/>
<use href="#p" x="1515.8" y="696.7"/>
<use href="#p" x="1515" y="698.3"/>
<use href="#p" x="1510" y="715"/>
<use href="#p" x="1511.7" y="716.7"/>
<use href="#p" x="1509.2" y="715.8"/>
<use href="#p" x="1512.5" y="714.2"/>
<use href="#p" x="1510.8" y="717.5"/>
<use href="#p" x="1495" y="720"/>
<use href="#p" x="1444.2" y="706.7"/>
<use href="#p" x="1450" y="711.7"/>
<use href="#p" x="1448.3" y="713.3"/>
<use href="#p" x="1451.7" y="715"/>
<use href="#p" x="1458.3" y="716.7"/>
<use href="#p" x="1468.3" y="711.7"/>
<use href="#p" x="1478.3" y="708.3"/>
<use href="#p" x="1447.5" y="726.7"/>
<use href="#p" x="1599.2" y="632.5"/>
<use href="#p" x="1601.7" y="635"/>
<use href="#p" x="1602.5" y="638.3"/>
<use href="#p" x="1616.7" y="630.8"/>
<use href="#p" x="1590" y="644.2"/>
<use href="#p" x="1627.5" y="650.5"/>
<use href="#p" x="1603.3" y="656.7"/>
<use href="#p" x="1604.2" y="665"/>
<use href="#p" x="1588.3" y="669.2"/>
<use href="#p" x="1589.2" y="670.8"/>
<use href="#p" x="1587.5" y="671.7"/>
<use href="#p" x="1590" y="673.3"/>
<use href="#p" x="1588.3" y="670"/>
<use href="#p" x="1591.7" y="681.7"/>
<use href="#p" x="1615.8" y="675"/>
<use href="#p" x="1574.7" y="688.3"/>
<use href="#p" x="1640.3" y="684.2"/>
<use href="#p" x="1609.2" y="690.8"/>
<use href="#p" x="1610" y="692.5"/>
<use href="#p" x="1608.3" y="691.7"/>
<use href="#p" x="1630" y="697.5"/>
<use href="#p" x="1618.3" y="703.3"/>
<use href="#p" x="1641.7" y="708.3"/>
<use href="#p" x="1566.7" y="706.7"/>
<use href="#p" x="1570" y="710"/>
<use href="#p" x="1573.3" y="713.3"/>
<use href="#p" x="1576.7" y="716.7"/>
<use href="#p" x="1580" y="720"/>
<use href="#p" x="1583.3" y="723.3"/>
<use href="#p" x="1586.7" y="716.7"/>
<use href="#p" x="1590" y="720"/>
<use href="#p" x="1593.3" y="723.3"/>
<use href="#p" x="1596.7" y="716.7"/>
<use href="#p" x="1600" y="720"/>
<use href="#p" x="1603.3" y="723.3"/>
<use href="#p" x="1578.3" y="710"/>
<use href="#p" x="1585" y="711.7"/>
<use href="#p" x="1591.7" y="713.3"/>
<use href="#p" x="1598.3" y="710"/>
<use href="#p" x="1605" y="715"/>
<use href="#p" x="1610" y="713.3"/>
<use href="#p" x="1613.3" y="716.7"/>
<use href="#p" x="1608.3" y="706.7"/>
<use href="#p" x="1601.7" y="706.7"/>
<use href="#p" x="1595" y="706.7"/>
<use href="#p" x="1588.3" y="706.7"/>
<use href="#p" x="1581.7" y="705"/>
<use href="#p" x="1575" y="706.7"/>
<use href="#p" x="1570" y="715"/>
<use href="#p" x="1576.7" y="723.3"/>
<use href="#p" x="1588.3" y="726.7"/>
<use href="#p" x="1596.7" y="725"/>
<use href="#p" x="1591.7" y="728.3"/>
<use href="#p" x="1600" y="701.7"/>
<use href="#p" x="1616.7" y="710"/>
<use href="#p" x="1620" y="715"/>
<use href="#p" x="1626.7" y="713.3"/>
<use href="#p" x="1630" y="716.7"/>
<use href="#p" x="1633.3" y="720"/>
<use href="#p" x="1636.7" y="716.7"/>
<use href="#p" x="1640" y="715"/>
<use href="#p" x="1643.3" y="711.7"/>
<use href="#p" x="1635" y="723.3"/>
<use href="#p" x="1631.7" y="710"/>
<use href="#p" x="1638.3" y="721.7"/>
<use href="#p" x="1628.3" y="720"/>
<use href="#p" x="1611.7" y="720"/>
<use href="#p" x="1565" y="710"/>
<use href="#p" x="1586.7" y="720"/>
<use href="#p" x="1593.3" y="718.3"/>
<use href="#p" x="1673.3" y="676.7"/>
<use href="#p" x="1695.8" y="692.5"/>
<use href="#p" x="1702.5" y="695.8"/>
<use href="#p" x="1711.7" y="692.5"/>
<use href="#p" x="1689.2" y="701.7"/>
<use href="#p" x="1678.3" y="711.7"/>
<use href="#p" x="1688.3" y="713.3"/>
<use href="#p" x="1697.5" y="715.8"/>
<use href="#p" x="1693.3" y="720"/>
<use href="#p" x="1484.2" y="528.3"/>
<use href="#p" x="1483" y="533.3"/>
<use href="#p" x="1586.2" y="544.2"/>
<use href="#p" x="1453.8" y="561.3"/>
<use href="#p" x="1485.8" y="570.5"/>
<use href="#p" x="1472.2" y="578.3"/>
<use href="#p" x="1477.5" y="583.3"/>
<use href="#p" x="1674" y="723.7"/>
<use href="#p" x="1677.1" y="723.5"/>
<use href="#p" x="1679.4" y="727.7"/>
<use href="#p" x="1681.4" y="724.5"/>
<use href="#p" x="1683.3" y="728.1"/>
<use href="#p" x="1685.1" y="727.6"/>
<use href="#p" x="1686.9" y="726.2"/>
<use href="#p" x="1688.6" y="729.5"/>
<use href="#p" x="1690.2" y="727.3"/>
<use href="#p" x="1691.8" y="730.1"/>
<use href="#p" x="1693.4" y="728.5"/>
<use href="#p" x="1695" y="729.2"/>
<use href="#p" x="1696.5" y="731.5"/>
<use href="#p" x="1697.9" y="734.1"/>
<use href="#p" x="1699.4" y="730.9"/>
<use href="#p" x="1700.9" y="731.9"/>
<use href="#p" x="1702.3" y="734.3"/>
<use href="#p" x="1703.7" y="736.3"/>
<use href="#p" x="1705.1" y="734.9"/>
<use href="#p" x="1706.4" y="734.5"/>
<use href="#p" x="1707.8" y="737.6"/>
<use href="#p" x="1709.1" y="733.8"/>
<use href="#p" x="1710.5" y="737.8"/>
<use href="#p" x="1711.8" y="735.7"/>
<use href="#p" x="1713.1" y="735.6"/>
<use href="#p" x="1714.4" y="735.9"/>
<use href="#p" x="1715.7" y="737.1"/>
<use href="#p" x="1717" y="739.4"/>
<use href="#p" x="1718.2" y="737.4"/>
<use href="#p" x="1719.5" y="739.3"/>
<use href="#p" x="1670" y="723"/>
<use href="#p" x="1674.7" y="735.8"/>
<use href="#p" x="1682" y="733"/>
<use href="#p" x="1710.2" y="727"/>
<use href="#p" x="1690" y="736"/>
<use href="#p" x="653.4" y="116.5"/>
<use href="#p" x="649.2" y="306"/>
<use href="#p" x="673.2" y="314.8"/>
<use href="#p" x="652" y="334.4"/>
<use href="#p" x="556.8" y="364.4"/>
<use href="#p" x="633.2" y="362.4"/>
<use href="#p" x="944" y="360.4"/>
<use href="#p" x="547.2" y="434"/>
<use href="#p" x="547.5" y="448"/>
<use href="#p" x="559" y="448"/>
<use href="#p" x="976" y="441.6"/>
<use href="#p" x="1281.6" y="376.8"/>
<use href="#p" x="1272.4" y="443.2"/>
<use href="#p" x="958.3" y="683.3"/>
<use href="#p" x="963.3" y="686.7"/>
<use href="#p" x="968.3" y="685"/>
<use href="#p" x="973.3" y="686.7"/>
<use href="#p" x="978.3" y="686.7"/>
<use href="#p" x="965" y="690"/>
<use href="#p" x="970" y="690.8"/>
<use href="#p" x="975.8" y="684.2"/>
<use href="#p" x="955.8" y="688.3"/>
<use href="#p" x="966.7" y="681.7"/>
<use href="#p" x="961.7" y="693.3"/>
<use href="#p" x="974.2" y="693.3"/>
<use href="#p" x="1672" y="719"/>
<use href="#p" x="1677" y="722"/>
<use href="#p" x="1680" y="728"/>
<use href="#p" x="1685" y="731"/>
<use href="#p" x="1676" y="731"/>
<use href="#p" x="1688" y="727"/>
<use href="#p" x="1694" y="730"/>
<use href="#p" x="1699" y="733"/>
<use href="#p" x="1704" y="735"/>
<use href="#p" x="1473.4" y="690.4"/>
<use href="#p" x="1469.6" y="704.5"/>
<use href="#p" x="1459.3" y="696.6"/>
<use href="#p" x="1473.1" y="684.6"/>
<use href="#p" x="1474.8" y="694.7"/>
<use href="#p" x="1456.7" y="698.5"/>
<use href="#p" x="1484" y="694.1"/>
<use href="#p" x="1468.1" y="686.1"/>
<use href="#p" x="1477.2" y="692.1"/>
<use href="#p" x="1484.9" y="696.2"/>
<use href="#p" x="1467.5" y="693.5"/>
<use href="#p" x="1458.6" y="701.9"/>
<use href="#p" x="1463.4" y="696.6"/>
<use href="#p" x="1470.5" y="696"/>
<use href="#p" x="1459.4" y="694.2"/>
<use href="#p" x="1470.9" y="699.8"/>
<use href="#p" x="986.5" y="680.9"/>
<use href="#p" x="972.1" y="686.6"/>
<use href="#p" x="966.4" y="673.2"/>
<use href="#p" x="962.2" y="694.9"/>
<use href="#p" x="955.8" y="678.7"/>
<use href="#p" x="976.3" y="693.3"/>
<use href="#p" x="957.7" y="690.3"/>
<use href="#p" x="985" y="684.6"/>
<use href="#p" x="949.3" y="681.5"/>
<use href="#p" x="966.5" y="693.6"/>
<use href="#p" x="971.7" y="685.4"/>
<use href="#p" x="962.3" y="693.1"/>
<use href="#p" x="977.6" y="680"/>
<use href="#p" x="954.5" y="681.5"/>
<use href="#p" x="977.6" y="685.9"/>
<use href="#p" x="975.5" y="690.6"/>
<use href="#p" x="982.3" y="684.9"/>
<use href="#p" x="974.8" y="694.7"/>
<use href="#p" x="973.5" y="673.2"/>
<use href="#p" x="982.3" y="678.8"/>
<use href="#p" x="831.1" y="662"/>
<use href="#p" x="830.9" y="659.6"/>
<use href="#p" x="845.4" y="666.5"/>
<use href="#p" x="837.4" y="662.3"/>
<use href="#p" x="837.3" y="668.4"/>
<use href="#p" x="824.9" y="665.2"/>
<use href="#p" x="1583.4" y="714.3"/>
<use href="#p" x="1583" y="716.2"/>
<use href="#p" x="1575.1" y="713.2"/>
<use href="#p" x="1582.2" y="704.7"/>
<use href="#p" x="1580.1" y="718.9"/>
<use href="#p" x="1576.3" y="717.8"/>
<use href="#p" x="1582.6" y="714.1"/>
<use href="#p" x="1583.8" y="710.4"/>
<use href="#p" x="1582.4" y="705.2"/>
<use href="#p" x="1582.4" y="718.7"/>
<use href="#p" x="1572.6" y="708.8"/>
<use href="#p" x="1585.3" y="706.6"/>
<use href="#p" x="1599.4" y="712.7"/>
<use href="#p" x="1611.7" y="716.5"/>
<use href="#p" x="1610.6" y="715.8"/>
<use href="#p" x="1597.7" y="719.3"/>
<use href="#p" x="1591.9" y="712.7"/>
<use href="#p" x="1610.1" y="724"/>
<use href="#p" x="1600.2" y="724.5"/>
<use href="#p" x="1590.8" y="716.4"/>
<use href="#p" x="1600.3" y="719.9"/>
<use href="#p" x="1606.4" y="716.9"/>
<use href="#p" x="1606.6" y="724.9"/>
<use href="#p" x="1608" y="724.5"/>
<use href="#p" x="1640.7" y="712.6"/>
<use href="#p" x="1635.4" y="724.6"/>
<use href="#p" x="1635.9" y="718.9"/>
<use href="#p" x="1636.5" y="713.5"/>
<use href="#p" x="1636.9" y="714.2"/>
<use href="#p" x="1638" y="715"/>
<use href="#p" x="1627.2" y="722.5"/>
<use href="#p" x="1632.4" y="713.7"/>
</g>
<polyline clip-path="url(#c1)" points="124,700 155,683.3 188.3,665 228.3,642.5 240,637 281,617.5 331,600 384,592.6 437.4,594.8" fill="none" stroke="#000" stroke-width="4.6" stroke-linejoin="round" stroke-linecap="butt"/>
<polyline clip-path="url(#c2)" points="570.8,602.5 636.7,617.5 703.3,631.7 753.3,642.5 820,654.5 886.7,663.3 953.3,668.3 1020,671.7 1120,672 1236.7,668.3 1286.7,667.5 1353,667.5 1386.7,668.7 1420,672 1470,678.3 1520,686.7 1586.7,703.3 1653.3,718.3 1721,733" fill="none" stroke="#000" stroke-width="4.6" stroke-linejoin="round" stroke-linecap="butt"/>
<rect x="109.6" y="21.6" width="342.6" height="63.4" fill="#cccccc" stroke="#000" stroke-width="2.2"/>
<rect x="109.6" y="85.0" width="342.6" height="692.9" fill="none" stroke="#000" stroke-width="2.2"/>
<path d="M108.5 85.0H453.3" stroke="#000" stroke-width="4.2"/>
<rect x="475.0" y="21.6" width="1303.3" height="63.4" fill="#cccccc" stroke="#000" stroke-width="2.2"/>
<rect x="475.0" y="85.0" width="1303.3" height="692.9" fill="none" stroke="#000" stroke-width="2.2"/>
<path d="M473.9 85.0H1779.3999999999999" stroke="#000" stroke-width="4.2"/>
<path d="M98.2 747.4H109.6M98.2 623.4H109.6M98.2 499.4H109.6M98.2 375.4H109.6M98.2 251.4H109.6M98.2 127.4H109.6M122.8 777.9V790M188.9 777.9V790M255.0 777.9V790M321.1 777.9V790M387.2 777.9V790M733.0 777.9V790M997.6 777.9V790M1262.2 777.9V790M1526.8 777.9V790" stroke="#000" stroke-width="3.9" fill="none"/>
<text class="tk" transform="translate(89.3 760.0) scale(1 1.04)" text-anchor="end">0</text>
<text class="tk" transform="translate(89.3 636.0) scale(1 1.04)" text-anchor="end">1</text>
<text class="tk" transform="translate(89.3 512.0) scale(1 1.04)" text-anchor="end">2</text>
<text class="tk" transform="translate(89.3 388.0) scale(1 1.04)" text-anchor="end">3</text>
<text class="tk" transform="translate(89.3 264.0) scale(1 1.04)" text-anchor="end">4</text>
<text class="tk" transform="translate(89.3 140.0) scale(1 1.04)" text-anchor="end">5</text>
<text class="tk" transform="translate(122.8 822.6) scale(1 1.04)" text-anchor="middle">0.0</text>
<text class="tk" transform="translate(188.9 822.6) scale(1 1.04)" text-anchor="middle">2.5</text>
<text class="tk" transform="translate(255.0 822.6) scale(1 1.04)" text-anchor="middle">5.0</text>
<text class="tk" transform="translate(321.1 822.6) scale(1 1.04)" text-anchor="middle">7.5</text>
<text class="tk" transform="translate(387.2 822.6) scale(1 1.04)" text-anchor="middle">10.0</text>
<text class="tk" transform="translate(733.0 822.6) scale(1 1.04)" text-anchor="middle">20</text>
<text class="tk" transform="translate(997.6 822.6) scale(1 1.04)" text-anchor="middle">30</text>
<text class="tk" transform="translate(1262.2 822.6) scale(1 1.04)" text-anchor="middle">40</text>
<text class="tk" transform="translate(1526.8 822.6) scale(1 1.04)" text-anchor="middle">50</text>
<text class="st" transform="translate(280.9 65.6) scale(1 1.04)" text-anchor="middle">Duncan</text>
<text class="st" transform="translate(1126.7 65.6) scale(1 1.04)" text-anchor="middle">Lardeau</text>
<text class="ti" transform="translate(944.0 868.8) scale(1 1.04)" text-anchor="middle">River Kilometre (km)</text>
<text class="ti" transform="translate(51.2 432.4) rotate(-90) scale(1 1.04)" text-anchor="middle">Density (fish/m)</text>
</svg></body></html>
